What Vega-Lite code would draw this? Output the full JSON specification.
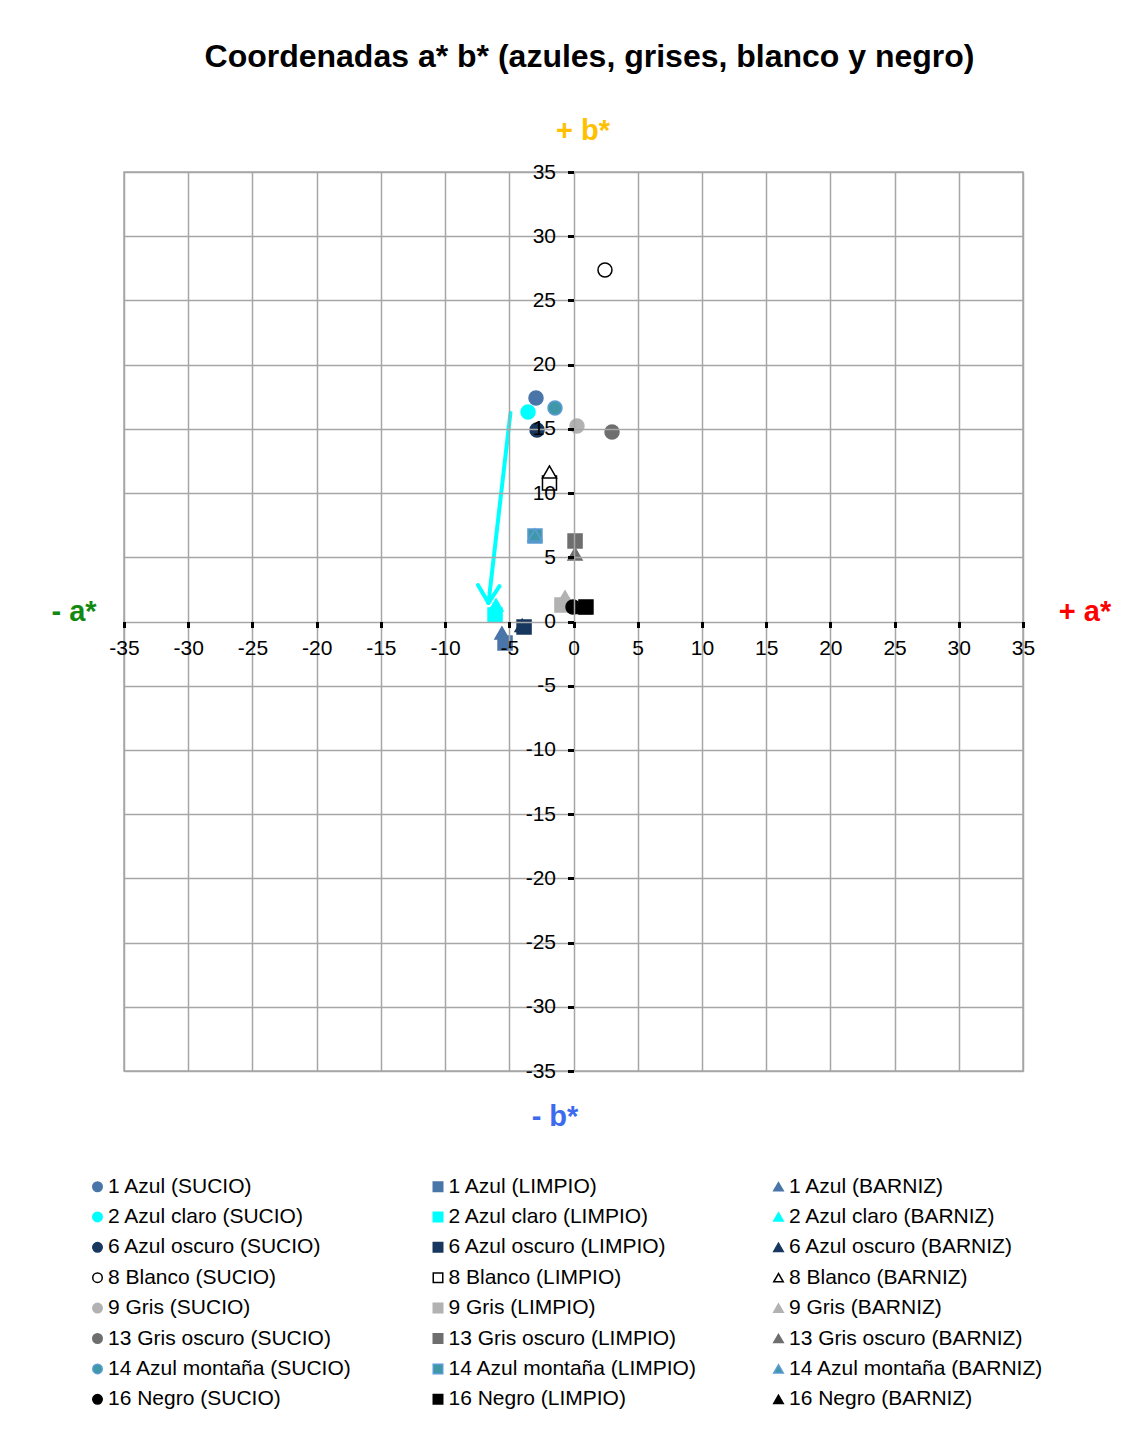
{
  "$schema": "https://vega.github.io/schema/vega-lite/v6.json",
  "width": 899,
  "height": 899,
  "autosize": {"type": "none"},
  "padding": {"left": 124, "top": 172, "right": 105, "bottom": 376},
  "background": "white",
  "title": {
    "text": "Coordenadas a* b* (azules, grises, blanco y negro)",
    "font": "Liberation Sans",
    "fontSize": 32,
    "fontWeight": "bold",
    "color": "black",
    "anchor": "middle",
    "dx": 16,
    "offset": 43
  },
  "config": {
    "view": {"stroke": "#A6A6A6", "strokeWidth": 1.5},
    "axis": {
      "labelFont": "Liberation Sans",
      "labelFontSize": 21,
      "labelColor": "black",
      "labelFlush": false,
      "labelOverlap": false,
      "labelExpr": "toString(datum.value)",
      "grid": true,
      "gridColor": "#A6A6A6",
      "gridWidth": 1.5,
      "domain": false,
      "tickColor": "black",
      "tickWidth": 3,
      "tickSize": 6,
      "title": null
    }
  },
  "layer": [
    {
      "mark": {"type": "rule", "color": "black", "strokeWidth": 6},
      "encoding": {"x": {"datum": 0, "type": "quantitative"}}
    },
    {
      "mark": {"type": "rule", "color": "black", "strokeWidth": 6},
      "encoding": {"y": {"datum": 0, "type": "quantitative"}}
    },
    {
      "data": {
        "values": [
          {"serie": "1 Azul (SUCIO)", "a": -2.92, "b": 17.4},
          {"serie": "1 Azul (LIMPIO)", "a": -5.33, "b": -1.67},
          {"serie": "1 Azul (BARNIZ)", "a": -5.57, "b": -0.9},
          {"serie": "2 Azul claro (SUCIO)", "a": -3.54, "b": 16.31},
          {"serie": "2 Azul claro (LIMPIO)", "a": -6.11, "b": 0.51},
          {"serie": "2 Azul claro (BARNIZ)", "a": -6.03, "b": 1.28},
          {"serie": "6 Azul oscuro (SUCIO)", "a": -2.84, "b": 14.91},
          {"serie": "6 Azul oscuro (LIMPIO)", "a": -3.85, "b": -0.43},
          {"serie": "6 Azul oscuro (BARNIZ)", "a": -4.0, "b": -0.3},
          {"serie": "8 Blanco (SUCIO)", "a": 2.45, "b": 27.37},
          {"serie": "8 Blanco (LIMPIO)", "a": -1.87, "b": 10.78},
          {"serie": "8 Blanco (BARNIZ)", "a": -1.87, "b": 11.64},
          {"serie": "9 Gris (SUCIO)", "a": 0.27, "b": 15.22},
          {"serie": "9 Gris (LIMPIO)", "a": -0.9, "b": 1.28},
          {"serie": "9 Gris (BARNIZ)", "a": -0.66, "b": 1.91},
          {"serie": "13 Gris oscuro (SUCIO)", "a": 3.0, "b": 14.75},
          {"serie": "13 Gris oscuro (LIMPIO)", "a": 0.12, "b": 6.27},
          {"serie": "13 Gris oscuro (BARNIZ)", "a": 0.12, "b": 5.26},
          {"serie": "14 Azul montaña (SUCIO)", "a": -1.44, "b": 16.62},
          {"serie": "14 Azul montaña (LIMPIO)", "a": -3.0, "b": 6.66},
          {"serie": "14 Azul montaña (BARNIZ)", "a": -3.0, "b": 6.74},
          {"serie": "16 Negro (SUCIO)", "a": -0.04, "b": 1.13},
          {"serie": "16 Negro (LIMPIO)", "a": 0.97, "b": 1.13},
          {"serie": "16 Negro (BARNIZ)", "a": 0.8, "b": 1.1}
        ]
      },
      "mark": {"type": "point", "filled": true, "size": 196, "strokeWidth": 1.5, "opacity": 1},
      "encoding": {
        "x": {
          "field": "a",
          "type": "quantitative",
          "scale": {"domain": [-35, 35], "nice": false, "zero": false},
          "axis": {
            "orient": "bottom",
            "offset": -449.5,
            "values": [-35, -30, -25, -20, -15, -10, -5, 0, 5, 10, 15, 20, 25, 30, 35],
            "labelPadding": 10,
            "zindex": 1
          }
        },
        "y": {
          "field": "b",
          "type": "quantitative",
          "scale": {"domain": [-35, 35], "nice": false, "zero": false},
          "axis": {
            "orient": "left",
            "offset": -449.5,
            "values": [-35, -30, -25, -20, -15, -10, -5, 0, 5, 10, 15, 20, 25, 30, 35],
            "labelPadding": 12,
            "zindex": 1
          }
        },
        "fill": {
          "field": "serie",
          "type": "nominal",
          "scale": {
            "domain": [
              "1 Azul (SUCIO)", "1 Azul (LIMPIO)", "1 Azul (BARNIZ)",
              "2 Azul claro (SUCIO)", "2 Azul claro (LIMPIO)", "2 Azul claro (BARNIZ)",
              "6 Azul oscuro (SUCIO)", "6 Azul oscuro (LIMPIO)", "6 Azul oscuro (BARNIZ)",
              "8 Blanco (SUCIO)", "8 Blanco (LIMPIO)", "8 Blanco (BARNIZ)",
              "9 Gris (SUCIO)", "9 Gris (LIMPIO)", "9 Gris (BARNIZ)",
              "13 Gris oscuro (SUCIO)", "13 Gris oscuro (LIMPIO)", "13 Gris oscuro (BARNIZ)",
              "14 Azul montaña (SUCIO)", "14 Azul montaña (LIMPIO)", "14 Azul montaña (BARNIZ)",
              "16 Negro (SUCIO)", "16 Negro (LIMPIO)", "16 Negro (BARNIZ)"
            ],
            "range": [
              "#4A75A8", "#4A75A8", "#4A75A8",
              "#00FFFF", "#00FFFF", "#00FFFF",
              "#17375E", "#17375E", "#17375E",
              "#FFFFFF", "#FFFFFF", "#FFFFFF",
              "#B2B2B2", "#B2B2B2", "#B2B2B2",
              "#6E6E6E", "#6E6E6E", "#6E6E6E",
              "#3F98A8", "#3F98A8", "#3F98A8",
              "#000000", "#000000", "#000000"
            ]
          },
          "legend": {
            "orient": "none",
            "legendX": -37,
            "legendY": 1004,
            "direction": "horizontal",
            "columns": 3,
            "gridAlign": "all",
            "columnPadding": 64.5,
            "rowPadding": 8.4,
            "symbolSize": 90,
            "symbolStrokeWidth": 1.5,
            "labelFont": "Liberation Sans",
            "labelFontSize": 21,
            "labelColor": "black",
            "labelLimit": 400,
            "labelOffset": 0,
            "title": null
          }
        },
        "stroke": {
          "field": "serie",
          "type": "nominal",
          "scale": {
            "domain": [
              "1 Azul (SUCIO)", "1 Azul (LIMPIO)", "1 Azul (BARNIZ)",
              "2 Azul claro (SUCIO)", "2 Azul claro (LIMPIO)", "2 Azul claro (BARNIZ)",
              "6 Azul oscuro (SUCIO)", "6 Azul oscuro (LIMPIO)", "6 Azul oscuro (BARNIZ)",
              "8 Blanco (SUCIO)", "8 Blanco (LIMPIO)", "8 Blanco (BARNIZ)",
              "9 Gris (SUCIO)", "9 Gris (LIMPIO)", "9 Gris (BARNIZ)",
              "13 Gris oscuro (SUCIO)", "13 Gris oscuro (LIMPIO)", "13 Gris oscuro (BARNIZ)",
              "14 Azul montaña (SUCIO)", "14 Azul montaña (LIMPIO)", "14 Azul montaña (BARNIZ)",
              "16 Negro (SUCIO)", "16 Negro (LIMPIO)", "16 Negro (BARNIZ)"
            ],
            "range": [
              "#4A75A8", "#4A75A8", "#4A75A8",
              "#00FFFF", "#00FFFF", "#00FFFF",
              "#17375E", "#17375E", "#17375E",
              "#000000", "#000000", "#000000",
              "#B2B2B2", "#B2B2B2", "#B2B2B2",
              "#6E6E6E", "#6E6E6E", "#6E6E6E",
              "#5B9BD5", "#5B9BD5", "#5B9BD5",
              "#000000", "#000000", "#000000"
            ]
          }
        },
        "shape": {
          "field": "serie",
          "type": "nominal",
          "scale": {
            "domain": [
              "1 Azul (SUCIO)", "1 Azul (LIMPIO)", "1 Azul (BARNIZ)",
              "2 Azul claro (SUCIO)", "2 Azul claro (LIMPIO)", "2 Azul claro (BARNIZ)",
              "6 Azul oscuro (SUCIO)", "6 Azul oscuro (LIMPIO)", "6 Azul oscuro (BARNIZ)",
              "8 Blanco (SUCIO)", "8 Blanco (LIMPIO)", "8 Blanco (BARNIZ)",
              "9 Gris (SUCIO)", "9 Gris (LIMPIO)", "9 Gris (BARNIZ)",
              "13 Gris oscuro (SUCIO)", "13 Gris oscuro (LIMPIO)", "13 Gris oscuro (BARNIZ)",
              "14 Azul montaña (SUCIO)", "14 Azul montaña (LIMPIO)", "14 Azul montaña (BARNIZ)",
              "16 Negro (SUCIO)", "16 Negro (LIMPIO)", "16 Negro (BARNIZ)"
            ],
            "range": [
              "circle", "square", "triangle-up",
              "circle", "square", "triangle-up",
              "circle", "square", "triangle-up",
              "circle", "square", "triangle-up",
              "circle", "square", "triangle-up",
              "circle", "square", "triangle-up",
              "circle", "square", "triangle-up",
              "circle", "square", "triangle-up"
            ]
          }
        }
      }
    },
    {
      "data": {
        "values": [
          {"a1": -4.91, "b1": 16.24, "a2": -6.62, "b2": 1.44},
          {"a1": -7.44, "b1": 2.84, "a2": -6.62, "b2": 1.44},
          {"a1": -5.76, "b1": 2.76, "a2": -6.62, "b2": 1.44}
        ]
      },
      "mark": {"type": "rule", "color": "#00FFFF", "strokeWidth": 4, "strokeCap": "round"},
      "encoding": {
        "x": {"field": "a1", "type": "quantitative"},
        "y": {"field": "b1", "type": "quantitative"},
        "x2": {"field": "a2"},
        "y2": {"field": "b2"}
      }
    },
    {
      "data": {"values": [{"t": "+ b*", "a": 0, "b": 35}]},
      "mark": {"type": "text", "font": "Liberation Sans", "fontSize": 29, "fontWeight": "bold", "color": "#FFC000", "align": "center", "baseline": "middle", "dx": 9.5, "dy": -41},
      "encoding": {
        "x": {"field": "a", "type": "quantitative"},
        "y": {"field": "b", "type": "quantitative"},
        "text": {"field": "t"}
      }
    },
    {
      "data": {"values": [{"t": "- b*", "a": 0, "b": -35}]},
      "mark": {"type": "text", "font": "Liberation Sans", "fontSize": 29, "fontWeight": "bold", "color": "#3D6BF0", "align": "center", "baseline": "middle", "dx": -18.5, "dy": 46},
      "encoding": {
        "x": {"field": "a", "type": "quantitative"},
        "y": {"field": "b", "type": "quantitative"},
        "text": {"field": "t"}
      }
    },
    {
      "data": {"values": [{"t": "- a*", "a": -35, "b": 0}]},
      "mark": {"type": "text", "font": "Liberation Sans", "fontSize": 29, "fontWeight": "bold", "color": "#128A12", "align": "center", "baseline": "middle", "dx": -50, "dy": -9.5},
      "encoding": {
        "x": {"field": "a", "type": "quantitative"},
        "y": {"field": "b", "type": "quantitative"},
        "text": {"field": "t"}
      }
    },
    {
      "data": {"values": [{"t": "+ a*", "a": 35, "b": 0}]},
      "mark": {"type": "text", "font": "Liberation Sans", "fontSize": 29, "fontWeight": "bold", "color": "#FF0000", "align": "center", "baseline": "middle", "dx": 62, "dy": -9.5},
      "encoding": {
        "x": {"field": "a", "type": "quantitative"},
        "y": {"field": "b", "type": "quantitative"},
        "text": {"field": "t"}
      }
    }
  ]
}
